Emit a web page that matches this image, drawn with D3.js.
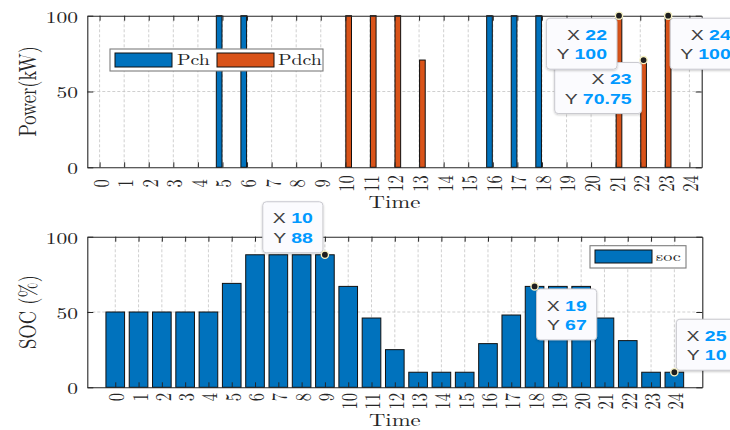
<!DOCTYPE html>
<html><head><meta charset="utf-8">
<script src="https://cdn.jsdelivr.net/npm/d3@7"></script>
<style>body{margin:0;background:#fff}</style>
</head><body>
<svg id="c" width="730" height="430" xmlns="http://www.w3.org/2000/svg"></svg>
<script>
// ---------- data ----------
const timeLabels = ["0","1","2","3","4","5","6","7","8","9","10","11","12","13","14","15","16","17","18","19","20","21","22","23","24"];
const pch  = [0,0,0,0,0,100,100,0,0,0,0,0,0,0,0,0,100,100,100,0,0,0,0,0,0];
const pdch = [0,0,0,0,0,0,0,0,0,0,100,100,100,70.75,0,0,0,0,0,0,0,100,70.75,100,0];
const soc  = [50,50,50,50,50,69,88,88,88,88,67,46,25,10,10,10,29,48,67,67,67,46,31,10,10];
const powerTicks = [0,50,100];
const socTicks = [0,50,100];
const seriesNames = ["Pch","Pdch"];
const socName = "soc";
// data tips: index into the series (shown with 1-based X as in MATLAB)
const topTips = [{s:"Pdch", i:22, pos:"bl"}, {s:"Pdch", i:21, pos:"bl"}, {s:"Pdch", i:23, pos:"br"}];
const botTips = [{i:9, pos:"tl"}, {i:18, pos:"br"}, {i:24, pos:"tr"}];

// ---------- style ----------
const SERIF = "'Latin Modern Roman','CMU Serif','Liberation Serif','Times New Roman',serif";
const SANS = "'Liberation Sans',Arial,Helvetica,sans-serif";
const SX = 1.3;           // horizontal glyph stretch of the reference
const BLUE = "#0072BD", ORANGE = "#D95319", INK = "#262626";
const svg = d3.select("#c");

const defs = svg.append("defs");
const f = defs.append("filter").attr("id","sh").attr("x","-20%").attr("y","-20%").attr("width","140%").attr("height","150%");
f.append("feDropShadow").attr("dx",0).attr("dy",1).attr("stdDeviation",1.3).attr("flood-color","#000").attr("flood-opacity",0.22);

function addText(g, x, y, str, o) {
  return g.append("text")
    .attr("transform", `translate(${x},${y}) scale(${o.sx||SX},1)` + (o.rot ? ` rotate(${o.rot})` : ""))
    .attr("font-family", o.font || SERIF)
    .attr("font-size", o.size)
    .attr("font-weight", o.weight || "normal")
    .attr("text-anchor", o.anchor || "start")
    .attr("dominant-baseline", o.base || "auto")
    .attr("fill", o.fill || INK)
    .text(str);
}

function frame(g, x, y, yTicks) {
  const [x0, x1] = x.range(), [yb, yt] = y.range();
  const idx = timeLabels.map((d, i) => i);
  const grid = g.append("g").attr("stroke", "#c4c4c4").attr("stroke-width", 0.8).attr("stroke-dasharray", "3,2");
  grid.selectAll(".gx").data(idx).join("line").attr("x1", d => x(d)).attr("x2", d => x(d)).attr("y1", yb).attr("y2", yt);
  grid.selectAll(".gy").data(yTicks.filter(t => t > y.domain()[0] && t < y.domain()[1])).join("line")
    .attr("x1", x0).attr("x2", x1).attr("y1", d => y(d)).attr("y2", d => y(d));
  return idx;
}

function axes(g, x, y, yTicks, idx, labelMode, labelY, ylab, ylabY, xlabY) {
  const [x0, x1] = x.range(), [yb, yt] = y.range();
  const ax = g.append("g").attr("color", INK);
  ax.append("g").attr("transform", `translate(0,${yb})`).call(d3.axisBottom(x).tickValues(idx).tickSize(-5).tickSizeOuter(0).tickFormat(""));
  ax.append("g").attr("transform", `translate(0,${yt})`).call(d3.axisTop(x).tickValues(idx).tickSize(-5).tickSizeOuter(0).tickFormat(""));
  ax.append("g").attr("transform", `translate(${x0},0)`).call(d3.axisLeft(y).tickValues(yTicks).tickSize(-6).tickSizeOuter(0).tickFormat(""));
  ax.append("g").attr("transform", `translate(${x1},0)`).call(d3.axisRight(y).tickValues(yTicks).tickSize(-6).tickSizeOuter(0).tickFormat(""));
  ax.selectAll("path.domain").attr("stroke-width", 1.1);
  idx.forEach(i => {
    addText(g, x(i), labelY, timeLabels[i], {size: 16.5, rot: -90, anchor: labelMode, base: "central"});
  });
  yTicks.forEach(t => addText(g, x0 - 9.3, y(t), String(t), {size: 16.5, anchor: "end", base: "central"}));
  addText(g, 26, ylabY, ylab, {size: 18.5, rot: -90, anchor: "middle", base: "central"});
  addText(g, (x0 + x1) / 2, xlabY, "Time", {size: 17.5, anchor: "middle"});
}

function dataTip(layer, mx, my, xv, yv, pos) {
  const g = layer.append("g");
  const lines = [["X ", xv], ["Y ", yv]];
  const ts = lines.map((l, k) => {
    const t = g.append("text").attr("font-family", SANS).attr("font-size", 15).attr("text-anchor", "end");
    t.append("tspan").attr("fill", "#404040").text(l[0]);
    t.append("tspan").attr("fill", "#0099FF").attr("font-weight", "bold").text(l[1]);
    return t;
  });
  const w = d3.max(ts, t => t.node().getComputedTextLength()) * SX;
  const bw = w + 20, bh = 51;
  let left = pos[1] === "l" ? mx - 2 - bw : mx + 2;
  let top = pos[0] === "b" ? my + 2.5 : my - 2 - bh;
  g.insert("rect", "text").attr("x", left).attr("y", top).attr("width", bw).attr("height", bh).attr("rx", 3.5)
    .attr("fill", "#fbfbfe").attr("stroke", "#c9c9cf").attr("stroke-width", 1).attr("filter", "url(#sh)");
  ts.forEach((t, k) => t.attr("transform", `translate(${left + bw - 10},${top + 21.7 + k * 19.4}) scale(${SX},1)`));
  layer.append("circle").attr("cx", mx).attr("cy", my).attr("r", 3.6).attr("fill", "#1e1e1e").attr("stroke", "#f6f1c2").attr("stroke-width", 1.4);
}

// ---------- top panel ----------
{
  const g = svg.append("g");
  const x = d3.scaleLinear().domain([-0.5, 24.5]).range([87.3, 701.7]);
  const y = d3.scaleLinear().domain([0, 100]).range([167.3, 15.7]);
  const idx = frame(g, x, y, powerTicks);
  const bw = 0.23, off = 0.135;
  const series = [{name: seriesNames[0], v: pch, c: BLUE, o: -off}, {name: seriesNames[1], v: pdch, c: ORANGE, o: off}];
  series.forEach(s => {
    g.append("g").selectAll("rect").data(s.v.map((v, i) => ({v, i})).filter(d => d.v > 0)).join("rect")
      .attr("x", d => x(d.i + s.o - bw / 2)).attr("width", x(bw) - x(0))
      .attr("y", d => y(d.v)).attr("height", d => y(0) - y(d.v))
      .attr("fill", s.c).attr("stroke", "#111").attr("stroke-width", 1);
  });
  axes(g, x, y, powerTicks, idx, "middle", 183.5, "Power(kW)", 91.5, 208);
  const lg = g.append("g");
  lg.append("rect").attr("x", 110).attr("y", 49).attr("width", 213).attr("height", 22).attr("fill", "#fff").attr("stroke", "#7d7d7d").attr("stroke-width", 1.1);
  [[115, 177], [217, 278]].forEach((p, k) => {
    lg.append("rect").attr("x", p[0]).attr("y", 53).attr("width", 57).attr("height", 14).attr("fill", series[k].c).attr("stroke", "#111").attr("stroke-width", 1);
    addText(lg, p[1], 64.5, series[k].name, {size: 15.3});
  });
  const tl = g.append("g");
  topTips.forEach(t => {
    const s = series.find(q => q.name === t.s);
    dataTip(tl, x(t.i + s.o), y(s.v[t.i]), t.i + 1, s.v[t.i], t.pos);
  });
}

// ---------- bottom panel ----------
{
  const g = svg.append("g");
  const x = d3.scaleLinear().domain([-1.2, 25.2]).range([87.3, 702.3]);
  const y = d3.scaleLinear().domain([0, 100]).range([387.3, 236.7]);
  const idx = frame(g, x, y, socTicks);
  const bw = 0.8;
  g.append("g").selectAll("rect").data(soc.map((v, i) => ({v, i}))).join("rect")
    .attr("x", d => x(d.i - bw / 2)).attr("width", x(bw) - x(0))
    .attr("y", d => y(d.v)).attr("height", d => y(0) - y(d.v))
    .attr("fill", BLUE).attr("stroke", "#111").attr("stroke-width", 1);
  axes(g, x, y, socTicks, idx, "end", 393, "SOC (%)", 312, 425.5);
  const lg = g.append("g");
  lg.append("rect").attr("x", 590).attr("y", 245.7).attr("width", 96).attr("height", 22.3).attr("fill", "#fff").attr("stroke", "#7d7d7d").attr("stroke-width", 1.1);
  lg.append("rect").attr("x", 595).attr("y", 250).attr("width", 57).attr("height", 13).attr("fill", BLUE).attr("stroke", "#111").attr("stroke-width", 1);
  addText(lg, 656, 260.5, socName, {size: 14});
  const tl = g.append("g");
  botTips.forEach(t => dataTip(tl, x(t.i), y(soc[t.i]), t.i + 1, soc[t.i], t.pos));
}
</script>
</body></html>
